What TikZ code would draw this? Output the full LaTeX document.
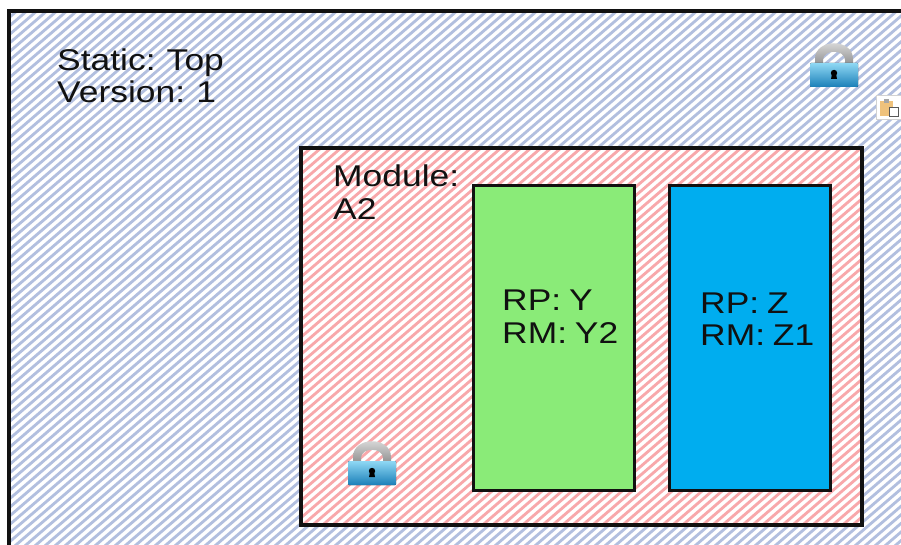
\documentclass[tikz,border=0pt]{standalone}
\usepackage{fontspec}
\setmainfont[WordSpace=0.8]{Liberation Sans}
\definecolor{hatchblue}{HTML}{B2BFDF}
\definecolor{hatchred}{HTML}{F8A8AB}
\definecolor{rpgreen}{HTML}{8AEB78}
\definecolor{rpblue}{HTML}{00ADEF}
\definecolor{frame}{HTML}{111111}
\definecolor{clipboardtan}{HTML}{EFC27C}
\definecolor{locktop}{HTML}{8FD8F4}
\definecolor{lockbottom}{HTML}{1A7FB8}
\tikzset{
  region/.style={draw=frame,line width=3.4pt},
  lbl/.style={align=left,anchor=north west,inner sep=0pt,text=frame,font=\fontsize{30}{32.5}\selectfont,xscale=1.18},
}
\newcommand{\hatchlines}[5]{% x0,y0,x1,y1,colour
  \begin{scope}
    \clip (#1,#2) rectangle (#3,#4);
    \pgfmathsetmacro{\hstart}{#1+#2/0.86}
    \pgfmathsetmacro{\hnext}{\hstart+10}
    \pgfmathsetmacro{\hend}{#3+#4/0.86}
    \foreach \h in {\hstart,\hnext,...,\hend}
      \draw[#5,line width=2.8pt] (\h-800,688) -- (\h+800,-688);
  \end{scope}
}
\newcommand{\padlock}[2]{% x,y of body top-left
  \begin{scope}[shift={(#1,#2)}]
    \path[top color=gray!20,bottom color=gray!85]
      (5,1) -- (5,-4) .. controls (5,-25) and (43,-25) .. (43,-4) -- (43,1) -- (35,1) -- (35,-3)
      .. controls (35,-14) and (13,-14) .. (13,-3) -- (13,1) -- cycle;
    \fill[top color=locktop,bottom color=lockbottom,rounded corners=1pt] (0,0) rectangle (48,24);
    \fill[black] (24,10) circle (3.2);
    \fill[black] (22,11) -- (26,11) -- (27,16) -- (21,16) -- cycle;
  \end{scope}
}
\begin{document}
\begin{tikzpicture}[x=1pt,y=-1pt]
  \useasboundingbox (0,0) rectangle (901,545);
  \fill[white] (0,0) rectangle (901,545);
  \hatchlines{8}{10}{901}{545}{hatchblue}
  \draw[region] (9,545) -- (9,11) -- (901,11);
  \fill[white] (301,148) rectangle (862,525);
  \hatchlines{301}{148}{862}{525}{hatchred}
  \draw[region] (301,148) rectangle (862,525);
  \node[region,fill=rpgreen,minimum width=160.5pt,minimum height=304.5pt,inner sep=0pt] (rpy) at (554,338) {};
  \node[region,fill=rpblue,minimum width=160.5pt,minimum height=304.5pt,inner sep=0pt] (rpz) at (750,338) {};
  \node[lbl] (static) at (57,48.5) {Static: Top\\Version: 1};
  \node[lbl] (module) at (333,165) {Module:\\A2};
  \node[lbl] (rpytext) at (502,290) {RP: Y\\RM: Y2};
  \node[lbl] (rpztext) at (700,292.5) {RP: Z\\RM: Z1};
  \padlock{810}{63}
  \padlock{348}{461}
  % clipboard icon
  \fill[white] (876,96) rectangle (901,120);
  \draw[gray!35,line width=1pt] (901,96) -- (876,96) -- (876,120) -- (901,120);
  \fill[clipboardtan] (880,101) rectangle (893,116);
  \fill[gray!70] (884,99) rectangle (889,103);
  \fill[white] (889,107) rectangle (898,116);
  \draw[gray!70!black,line width=.8pt] (889,107) rectangle (898,116);
\end{tikzpicture}
\end{document}
